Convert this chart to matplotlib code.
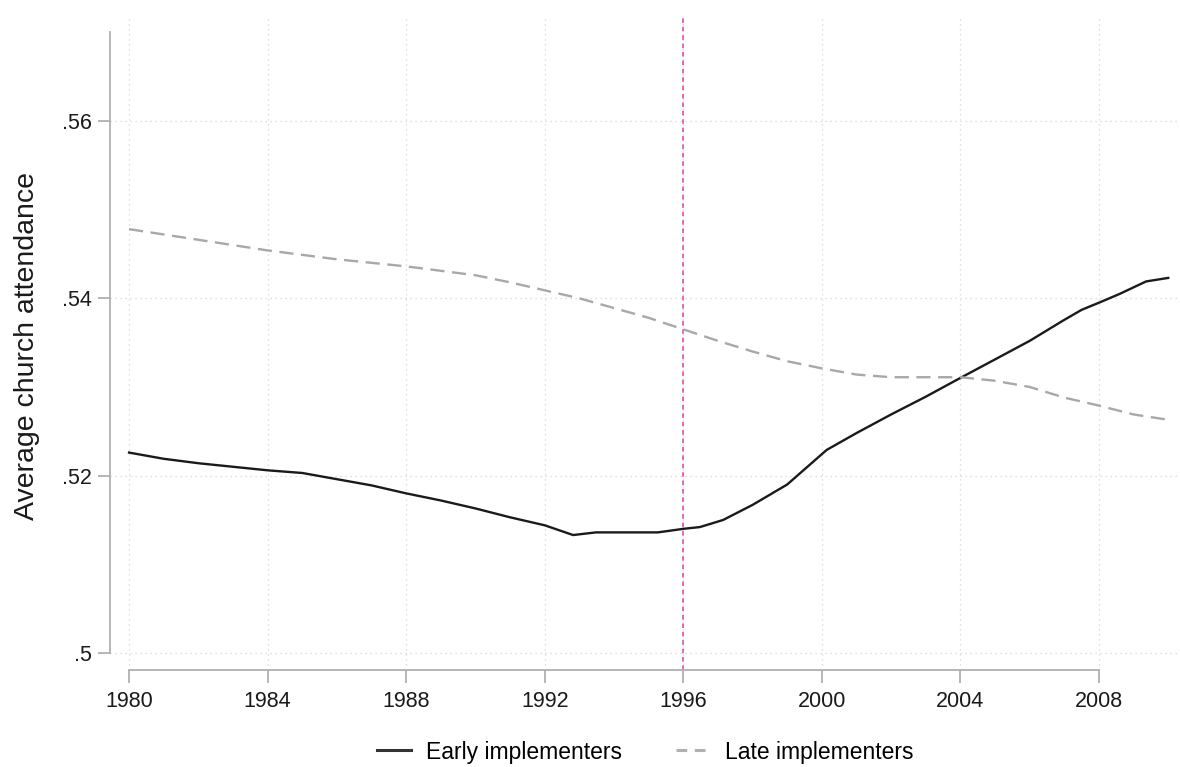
import matplotlib
matplotlib.use("Agg")
import matplotlib.pyplot as plt
from matplotlib.lines import Line2D

plt.rcParams['font.family'] = ['Liberation Sans', 'DejaVu Sans']

# Early implementers (solid black)
early_years = [1980, 1981, 1982, 1983, 1984, 1985, 1986, 1987, 1988, 1989, 1990,
               1991, 1992, 1992.82, 1993.48, 1994.08, 1995.27, 1996, 1996.48,
               1997.15, 1998, 1999, 2000.14, 2001, 2002, 2003, 2003.99, 2005.14,
               2006, 2006.97, 2007.5, 2008, 2008.6, 2009.36, 2010]
early_vals = [0.5226, 0.5219, 0.5214, 0.5210, 0.5206, 0.5203, 0.5196, 0.5189,
              0.5180, 0.5172, 0.5163, 0.5153, 0.5144, 0.5133, 0.5136, 0.5136,
              0.5136, 0.5140, 0.5142, 0.5150, 0.5167, 0.5190, 0.5229, 0.5248,
              0.5269, 0.5289, 0.5310, 0.5334, 0.5352, 0.5375, 0.5387, 0.5395,
              0.5405, 0.5419, 0.5423]

# Late implementers (dashed gray)
late_years = list(range(1980, 2011))
late_vals = [0.5478, 0.5472, 0.5466, 0.5460, 0.5454, 0.5449, 0.5444, 0.5440,
             0.5436, 0.5431, 0.5426, 0.5418, 0.5409, 0.5400, 0.5389, 0.5378,
             0.5365, 0.5352, 0.5340, 0.5329, 0.5321, 0.5314, 0.5311, 0.5311,
             0.5311, 0.5307, 0.5300, 0.5288, 0.5279, 0.5269, 0.5263]

x_ticks = [1980, 1984, 1988, 1992, 1996, 2000, 2004, 2008]
y_ticks = [0.50, 0.52, 0.54, 0.56]
y_ticklabels = ['.5', '.52', '.54', '.56']
event_year = 1996

W, H = 1180, 767
fig = plt.figure(figsize=(W / 100, H / 100), dpi=100)
ax = fig.add_axes([110 / W, 1 - 670 / H, (1180 - 110) / W, (670 - 15) / H])

ax.plot(early_years, early_vals, color='#1a1a1a', lw=1.7, solid_joinstyle='round',
        label='Early implementers', zorder=3)
ax.plot(late_years, late_vals, color='#a8a8a8', lw=1.7, dashes=(6, 3.2),
        label='Late implementers', zorder=3)
ax.axvline(event_year, color='#e0409a', lw=1.1, dashes=(3, 2.5), zorder=2)

ax.set_xlim(1979.45, 2010.34)
ax.set_ylim(0.49808, 0.57195)

ax.set_xticks(x_ticks)
ax.set_yticks(y_ticks)
ax.set_yticklabels(y_ticklabels)

ax.grid(True, color='#d4d4d4', lw=0.9, linestyle=(0, (1, 3)))
ax.set_axisbelow(True)

for s in ['top', 'right']:
    ax.spines[s].set_visible(False)
for s in ['left', 'bottom']:
    ax.spines[s].set_color('#b0b0b0')
    ax.spines[s].set_linewidth(1.3)
ax.spines['left'].set_bounds(0.50, 0.57)
ax.spines['bottom'].set_bounds(1980, 2008)

ax.tick_params(axis='both', colors='#b0b0b0', length=9, width=1.3,
               labelcolor='#1a1a1a', labelsize=15.5)
ax.tick_params(axis='x', pad=6)
ax.tick_params(axis='y', pad=4)

ax.set_ylabel('Average church attendance', fontsize=20.5, color='#1a1a1a')
ax.yaxis.set_label_coords(-70 / (1180 - 110), (670 - 346) / 655)

handles = [Line2D([0], [0], color='#333333', lw=2.2),
           Line2D([0], [0], color='#b0b0b0', lw=2.2, dashes=(3.5, 2.5))]
fig.legend(handles, ['Early implementers', 'Late implementers'],
           loc='center', bbox_to_anchor=(645 / W, 1 - 752 / H), ncol=2,
           frameon=False, fontsize=16.5, handlelength=1.5, handletextpad=0.65,
           columnspacing=2.35)

fig.savefig('out.png', dpi=100)
